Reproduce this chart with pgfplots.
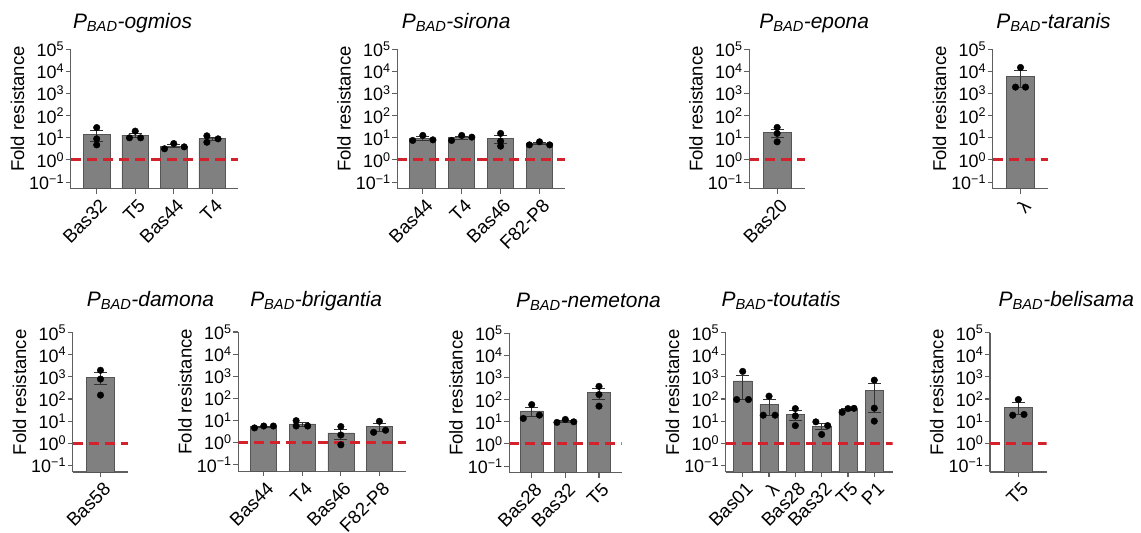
\documentclass[border=0pt]{standalone}
\usepackage{fontspec}
\setmainfont{Liberation Sans}
\usepackage{pgfplots}
\pgfplotsset{compat=1.18}
\definecolor{barfill}{RGB}{128,128,128}
\definecolor{baredge}{RGB}{85,85,85}
\definecolor{axgray}{RGB}{95,95,95}
\definecolor{refred}{RGB}{210,35,45}
\pgfplotsset{
  every axis/.append style={
    scale only axis,
    anchor=south west,
    ymode=log,
    log origin y=infty,
    ymin=0.0501, ymax=1e5,
    ytick={0.1,1,10,100,1000,10000,100000},
    yticklabels={10\textsuperscript{−1},10\textsuperscript{0},10\textsuperscript{1},10\textsuperscript{2},10\textsuperscript{3},10\textsuperscript{4},10\textsuperscript{5}},
    yminorticks=false,
    axis x line*=bottom,
    axis y line*=left,
    axis line style={axgray, line width=1.1bp},
    major tick style={axgray, line width=1.1bp},
    major tick length=5bp,
    tick align=outside,
    yticklabel style={font=\fontsize{18}{21}\selectfont, inner sep=1.5bp},
    xticklabel style={font=\fontsize{18.7}{22}\selectfont, xshift=2bp, yshift=-2bp, rotate=45, anchor=north east, inner sep=1.5bp},
    ylabel={Fold resistance},
    ylabel style={font=\fontsize{18.6}{22}\selectfont, xshift=10bp},
    title style={font=\fontsize{21}{24}\selectfont\itshape, anchor=base, at={(0.5,1)}},
  },
  fbar/.style={ybar, fill=barfill, draw=baredge, line width=0.6bp,
    error bars/y dir=both, error bars/y explicit,
    error bars/error bar style={black!80, line width=0.8bp},
    error bars/error mark options={rotate=90, mark size=6.5bp, line width=0.8bp, black!80}},
  fref/.style={refred, line width=2.9bp, dash pattern=on 10bp off 6bp},
  fpts/.style={only marks, mark=*, mark size=3.3bp, black},
}
\begin{document}
\begin{tikzpicture}
\useasboundingbox (0bp,0bp) rectangle (1141bp,-533bp);

% ---------- Row 1 ----------
\begin{axis}[at={(70.7bp,-188.7bp)}, width=167.6bp, height=139.4bp,
  xmin=-0.675, xmax=3.675, xtick={0,1,2,3}, xticklabels={Bas32,T5,Bas44,T4},
  title={P\textsubscript{BAD}-ogmios}, title style={xshift=-22bp, yshift=15bp}]
\addplot[fbar, bar width=26.7bp] coordinates {(0,14.27) +- (0,7.47) (1,13.33) +- (0,3.33) (2,4.2) +- (0,0.68) (3,9.2) +- (0,1.73)};
\addplot[fref] coordinates {(-0.675,1) (3.675,1)};
\addplot[fpts] coordinates {(0,29) (0,9) (0,4.8) (0.85,10) (1,20) (1.14,10) (1.76,3.2) (2,5.5) (2.27,3.9) (2.86,12.3) (2.86,6.3) (3.15,9)};
\end{axis}

\begin{axis}[at={(397.3bp,-188.7bp)}, width=167.7bp, height=139.4bp,
  xmin=-0.655, xmax=3.655, xtick={0,1,2,3}, xticklabels={Bas44,T4,Bas46,F82-P8},
  title={P\textsubscript{BAD}-sirona}, title style={xshift=-25bp, yshift=15bp}]
\addplot[fbar, bar width=26bp] coordinates {(0,9.5) +- (0,1.66) (1,10.37) +- (0,1.51) (2,9.03) +- (0,3.49) (3,5.4) +- (0,0.6)};
\addplot[fref] coordinates {(-0.655,1) (3.655,1)};
\addplot[fpts] coordinates {(-0.26,7.6) (0,12.8) (0.26,8.1) (0.74,7.6) (1,12.8) (1.26,10.7) (2,15.8) (2,7.1) (2,4.2) (2.74,4.8) (3,6.6) (3.26,4.8)};
\end{axis}

\begin{axis}[at={(749.3bp,-188.7bp)}, width=55.7bp, height=139.4bp,
  xmin=-1, xmax=1, xtick={0}, xticklabels={Bas20},
  title={P\textsubscript{BAD}-epona}, title style={xshift=37bp, yshift=15bp}]
\addplot[fbar, bar width=28.5bp] coordinates {(0,17.3) +- (0,6.65)};
\addplot[fref] coordinates {(-1,1) (1,1)};
\addplot[fpts] coordinates {(0,29.5) (0,15.8) (0,6.6)};
\end{axis}

\begin{axis}[at={(992.7bp,-188.7bp)}, width=55.6bp, height=139.4bp,
  xmin=-1, xmax=1, xtick={0}, xticklabels={λ},
  title={P\textsubscript{BAD}-taranis}, title style={xshift=33bp, yshift=15bp}]
\addplot[fbar, bar width=28.5bp] coordinates {(0,6333) +- (0,4383)};
\addplot[fref] coordinates {(-1,1) (1,1)};
\addplot[fpts] coordinates {(0,15100) (-0.18,1950) (0.18,1950)};
\end{axis}

% ---------- Row 2 ----------
\begin{axis}[at={(72.7bp,-472bp)}, width=55.6bp, height=139.3bp,
  xmin=-1, xmax=1, xtick={0}, xticklabels={Bas58},
  title={P\textsubscript{BAD}-damona}, title style={xshift=50bp, yshift=20bp}]
\addplot[fbar, bar width=28.5bp] coordinates {(0,983) +- (0,542)};
\addplot[fref] coordinates {(-1,1) (1,1)};
\addplot[fpts] coordinates {(0,2000) (0,800) (0,150)};
\end{axis}

\begin{axis}[at={(238.3bp,-471.3bp)}, width=167.7bp, height=139.3bp,
  xmin=-0.66, xmax=3.69, xtick={0,1,2,3}, xticklabels={Bas44,T4,Bas46,F82-P8},
  title={P\textsubscript{BAD}-brigantia}, title style={xshift=-6bp, yshift=20bp}]
\addplot[fbar, bar width=26bp] coordinates {(0,5.27) +- (0,0.33) (1,7.0) +- (0,1.4) (2,2.76) +- (0,1.33) (3,5.2) +- (0,1.96)};
\addplot[fref] coordinates {(-0.66,1) (3.69,1)};
\addplot[fpts] coordinates {(-0.24,4.6) (0,5.6) (0.25,5.6) (0.84,9.8) (0.84,5.6) (1.14,5.6) (2,5.3) (2,2.2) (2,0.79) (3,9.1) (2.85,2.9) (3.16,3.6)};
\end{axis}

\begin{axis}[at={(509.3bp,-472.7bp)}, width=112.4bp, height=139.4bp,
  xmin=-0.666, xmax=2.675, xtick={0,1,2}, xticklabels={Bas28,Bas32,T5},
  title={P\textsubscript{BAD}-nemetona}, title style={xshift=23bp, yshift=20bp}]
\addplot[fbar, bar width=22.7bp] coordinates {(0,31.4) +- (0,14.4) (1,10.73) +- (0,1.05) (2,207) +- (0,102.4)};
\addplot[fref] coordinates {(-0.666,1) (2.675,1)};
\addplot[fpts] coordinates {(0,60) (-0.25,14.2) (0.23,20) (0.75,9.4) (1,12.8) (1.25,10) (2,400) (2,170) (2,51)};
\end{axis}

\begin{axis}[at={(725.7bp,-472bp)}, width=167bp, height=139.3bp,
  xmin=-0.646, xmax=5.70, xtick={0,1,2,3,4,5}, xticklabels={Bas01,λ,Bas28,Bas32,T5,P1},
  title={P\textsubscript{BAD}-toutatis}, title style={xshift=-28bp, yshift=20bp}]
\addplot[fbar, bar width=18.3bp] coordinates {(0,656.7) +- (0,561.7) (1,57.4) +- (0,38.8) (2,20.2) +- (0,8.98) (3,6.03) +- (0,1.97) (4,33.3) +- (0,4.18) (5,254.5) +- (0,230.4)};
\addplot[fref] coordinates {(-0.646,1) (5.70,1)};
\addplot[fpts] coordinates {(0,1780) (-0.23,95) (0.22,95) (1,135) (0.78,18.6) (1.23,18.6) (2,37) (2,17.3) (2,6.3) (2.78,9.3) (3.23,6.3) (3,2.5) (3.78,25) (4,37) (4.23,38) (5,715) (5,38.6) (5,10)};
\end{axis}

\begin{axis}[at={(990bp,-472bp)}, width=56.7bp, height=139.3bp,
  xmin=-1, xmax=1, xtick={0}, xticklabels={T5},
  title={P\textsubscript{BAD}-belisama}, title style={xshift=48bp, yshift=20bp}]
\addplot[fbar, bar width=28.5bp] coordinates {(0,44.5) +- (0,25.2)};
\addplot[fref] coordinates {(-1,1) (1,1)};
\addplot[fpts] coordinates {(0,95) (-0.2,18.6) (0.2,20)};
\end{axis}
\end{tikzpicture}
\end{document}
